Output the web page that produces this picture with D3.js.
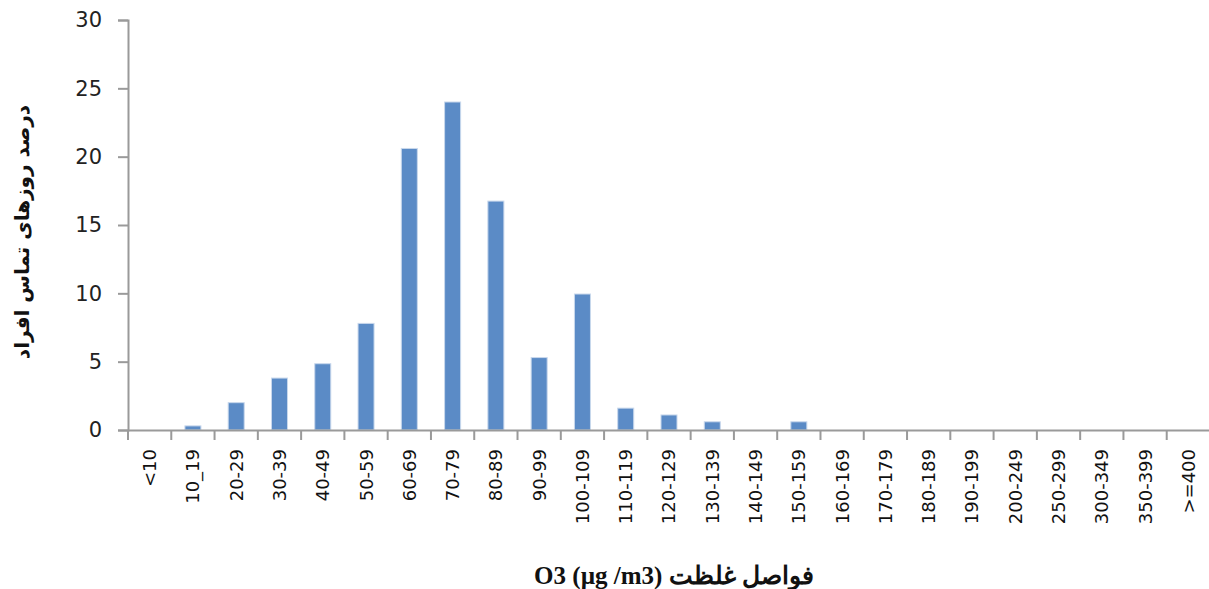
<!DOCTYPE html>
<html>
<head>
<meta charset="utf-8">
<script src="https://cdn.jsdelivr.net/npm/d3@7"></script>
<style>
  body { margin: 0; background: #fff; }
  svg { display: block; }
</style>
</head>
<body>
<div id="chart"></div>
<script>
// categories and values
var categories = ["<10", "10_19", "20-29", "30-39", "40-49", "50-59", "60-69", "70-79", "80-89", "90-99",
  "100-109", "110-119", "120-129", "130-139", "140-149", "150-159", "160-169", "170-179", "180-189",
  "190-199", "200-249", "250-299", "300-349", "350-399", ">=400"];
var values = [0, 0.3, 2.0, 3.8, 4.85, 7.8, 20.6, 24.0, 16.75, 5.3,
  9.95, 1.6, 1.1, 0.6, 0, 0.6, 0, 0, 0, 0, 0, 0, 0, 0, 0];
var yTicks = [0, 5, 10, 15, 20, 25, 30];
var yTitle = "درصد روزهای تماس افراد";
var xTitle = "O3 (µg /m3) فواصل غلظت";

var data = categories.map(function (c, i) { return { cat: c, value: values[i] }; });

var W = 1209, H = 589;
var margin = { top: 20, right: 0, bottom: 159, left: 128 },
    width = 1210 - margin.left,
    height = H - margin.top - margin.bottom;

var svg = d3.select("#chart").append("svg")
    .attr("width", W)
    .attr("height", H)
  .append("g")
    .attr("transform", "translate(" + margin.left + "," + margin.top + ")");

var x = d3.scaleBand().domain(categories).range([0, width]).padding(0);
var y = d3.scaleLinear().domain([0, 30]).range([height, 0]);

var axisColor = "#9a9a9a";

// Y axis
var yAxis = svg.append("g")
  .call(d3.axisLeft(y).tickValues(yTicks).tickSize(10).tickPadding(16));
yAxis.select(".domain").attr("stroke", axisColor).attr("stroke-width", 2);
yAxis.selectAll(".tick line").attr("stroke", axisColor).attr("stroke-width", 2);
yAxis.selectAll("text")
  .style("font-family", "'DejaVu Sans', Verdana, sans-serif")
  .style("font-size", "21px")
  .attr("fill", "#222");

// bars
var barW = x.bandwidth() * 0.37;
svg.append("g")
  .selectAll("rect")
  .data(data.filter(function (d) { return d.value > 0; }))
  .enter()
  .append("rect")
    .attr("x", function (d) { return x(d.cat) + (x.bandwidth() - barW) / 2; })
    .attr("y", function (d) { return y(d.value); })
    .attr("width", barW)
    .attr("height", function (d) { return height - y(d.value); })
    .attr("fill", "#5b8bc6")
    .attr("stroke", "#c9d8ec")
    .attr("stroke-width", 1);

// X axis
var xAxis = svg.append("g")
  .attr("transform", "translate(0," + height + ")")
  .call(d3.axisBottom(x).tickSize(0));
xAxis.select(".domain").attr("stroke", axisColor).attr("stroke-width", 2);
xAxis.selectAll("text")
  .attr("transform", "rotate(-90)")
  .attr("x", -19)
  .attr("y", 0)
  .attr("dy", "0.36em")
  .style("text-anchor", "end")
  .style("font-family", "'DejaVu Sans', Verdana, sans-serif")
  .style("font-size", "18px")
  .attr("fill", "#111");

// tick marks between categories
svg.append("g")
  .selectAll("line")
  .data(d3.range(categories.length + 1))
  .enter()
  .append("line")
    .attr("x1", function (i) { return i * x.step(); })
    .attr("x2", function (i) { return i * x.step(); })
    .attr("y1", height)
    .attr("y2", height + 10)
    .attr("stroke", axisColor)
    .attr("stroke-width", 2);

// axis titles
svg.append("text")
  .attr("transform", "translate(" + (22 - margin.left) + "," + (232 - margin.top) + ") rotate(-90)")
  .attr("text-anchor", "middle")
  .attr("dy", "0.35em")
  .style("font-family", "'DejaVu Sans', sans-serif")
  .style("font-weight", "bold")
  .style("font-size", "20px")
  .attr("fill", "#111")
  .text(yTitle);

svg.append("text")
  .attr("x", 674 - margin.left)
  .attr("y", 575 - margin.top)
  .attr("text-anchor", "middle")
  .attr("dy", "0.35em")
  .style("font-family", "'Liberation Serif', 'Times New Roman', serif")
  .style("font-weight", "bold")
  .style("font-size", "25px")
  .attr("fill", "#111")
  .text(xTitle);
</script>
</body>
</html>
